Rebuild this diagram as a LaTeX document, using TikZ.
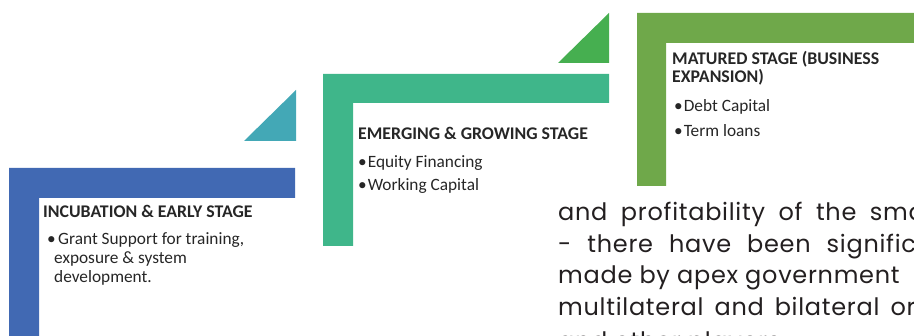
\documentclass[tikz,border=0pt]{standalone}
\usepackage{fontspec}
\setmainfont{Carlito}
\newfontfamily\pagefont[LetterSpace=3]{Poppins}
\usepackage{xcolor}
\definecolor{ink}{HTML}{262626}
\definecolor{pageink}{HTML}{231F20}
\definecolor{blueband}{HTML}{4169B3}
\definecolor{tealtri}{HTML}{43A8B6}
\definecolor{mintband}{HTML}{3FB68A}
\definecolor{greentri}{HTML}{46AF50}
\definecolor{oliveband}{HTML}{6FA84A}
\tikzset{
  band/.style={fill=#1},
  head/.style={anchor=base west, inner sep=0pt, text=ink, font=\bfseries\fontsize{17.8}{20}\selectfont},
  item/.style={anchor=base west, inner sep=0pt, text=ink, font=\fontsize{17.3}{20}\selectfont},
  pageline/.style={anchor=base west, inner sep=0pt, text=pageink, font=\pagefont\fontsize{24}{30}\selectfont},
}

\begin{document}
\begin{tikzpicture}[x=1pt,y=-1pt]
\path[use as bounding box, clip] (0,0) rectangle (914,336);
% stage bands
\fill[band=blueband] (9,168) -- (295,168) -- (295,198) -- (39,198) -- (39,340) -- (9,340) -- cycle;
\fill[band=mintband] (323,74) -- (609,74) -- (609,103) -- (353,103) -- (353,246) -- (323,246) -- cycle;
\fill[band=oliveband] (637,13) -- (920,13) -- (920,43) -- (666,43) -- (666,186) -- (637,186) -- cycle;
% steps
\fill[band=tealtri] (244,141) -- (296,90) -- (296,141) -- cycle;
\fill[band=greentri] (558,63) -- (609,13) -- (609,63) -- cycle;

% incubation
\node[head] (inchead) at (43,218) {INCUBATION \& EARLY STAGE};
\node[item] (incdot) at (47,245) {\textbullet};
\node[item] (incone) at (58,245) {Grant Support for training,};
\node[item] (inctwo) at (54,264) {exposure \& system};
\node[item] (incthree) at (54,283) {development.};
% emerging
\node[head] (emghead) at (358,140) {EMERGING \& GROWING STAGE};
\node[item] (emgone) at (358,168) {\textbullet\hspace{1pt}Equity Financing};
\node[item] (emgtwo) at (358,191) {\textbullet\hspace{1pt}Working Capital};
% matured
\node[head] (matone) at (672,65) {MATURED STAGE (BUSINESS};
\node[head] (mattwo) at (672,83) {EXPANSION)};
\node[item] (matdebt) at (674,112) {\textbullet\hspace{1pt}Debt Capital};
\node[item] (matterm) at (674,137) {\textbullet\hspace{1pt}Term loans};

% page text behind
\node[pageline] (pone) at (558,221) {\spaceskip=13.5pt\relax and profitability of the small};
\node[pageline] (ptwo) at (558,252.5) {\spaceskip=16pt\relax - there have been significant};
\node[pageline] (pthree) at (558,284) {made by apex government};
\node[pageline] (pfour) at (558,315.5) {\spaceskip=11pt\relax multilateral and bilateral organisations};
\node[pageline] (pfive) at (558,350) {and other players};
\end{tikzpicture}
\end{document}
